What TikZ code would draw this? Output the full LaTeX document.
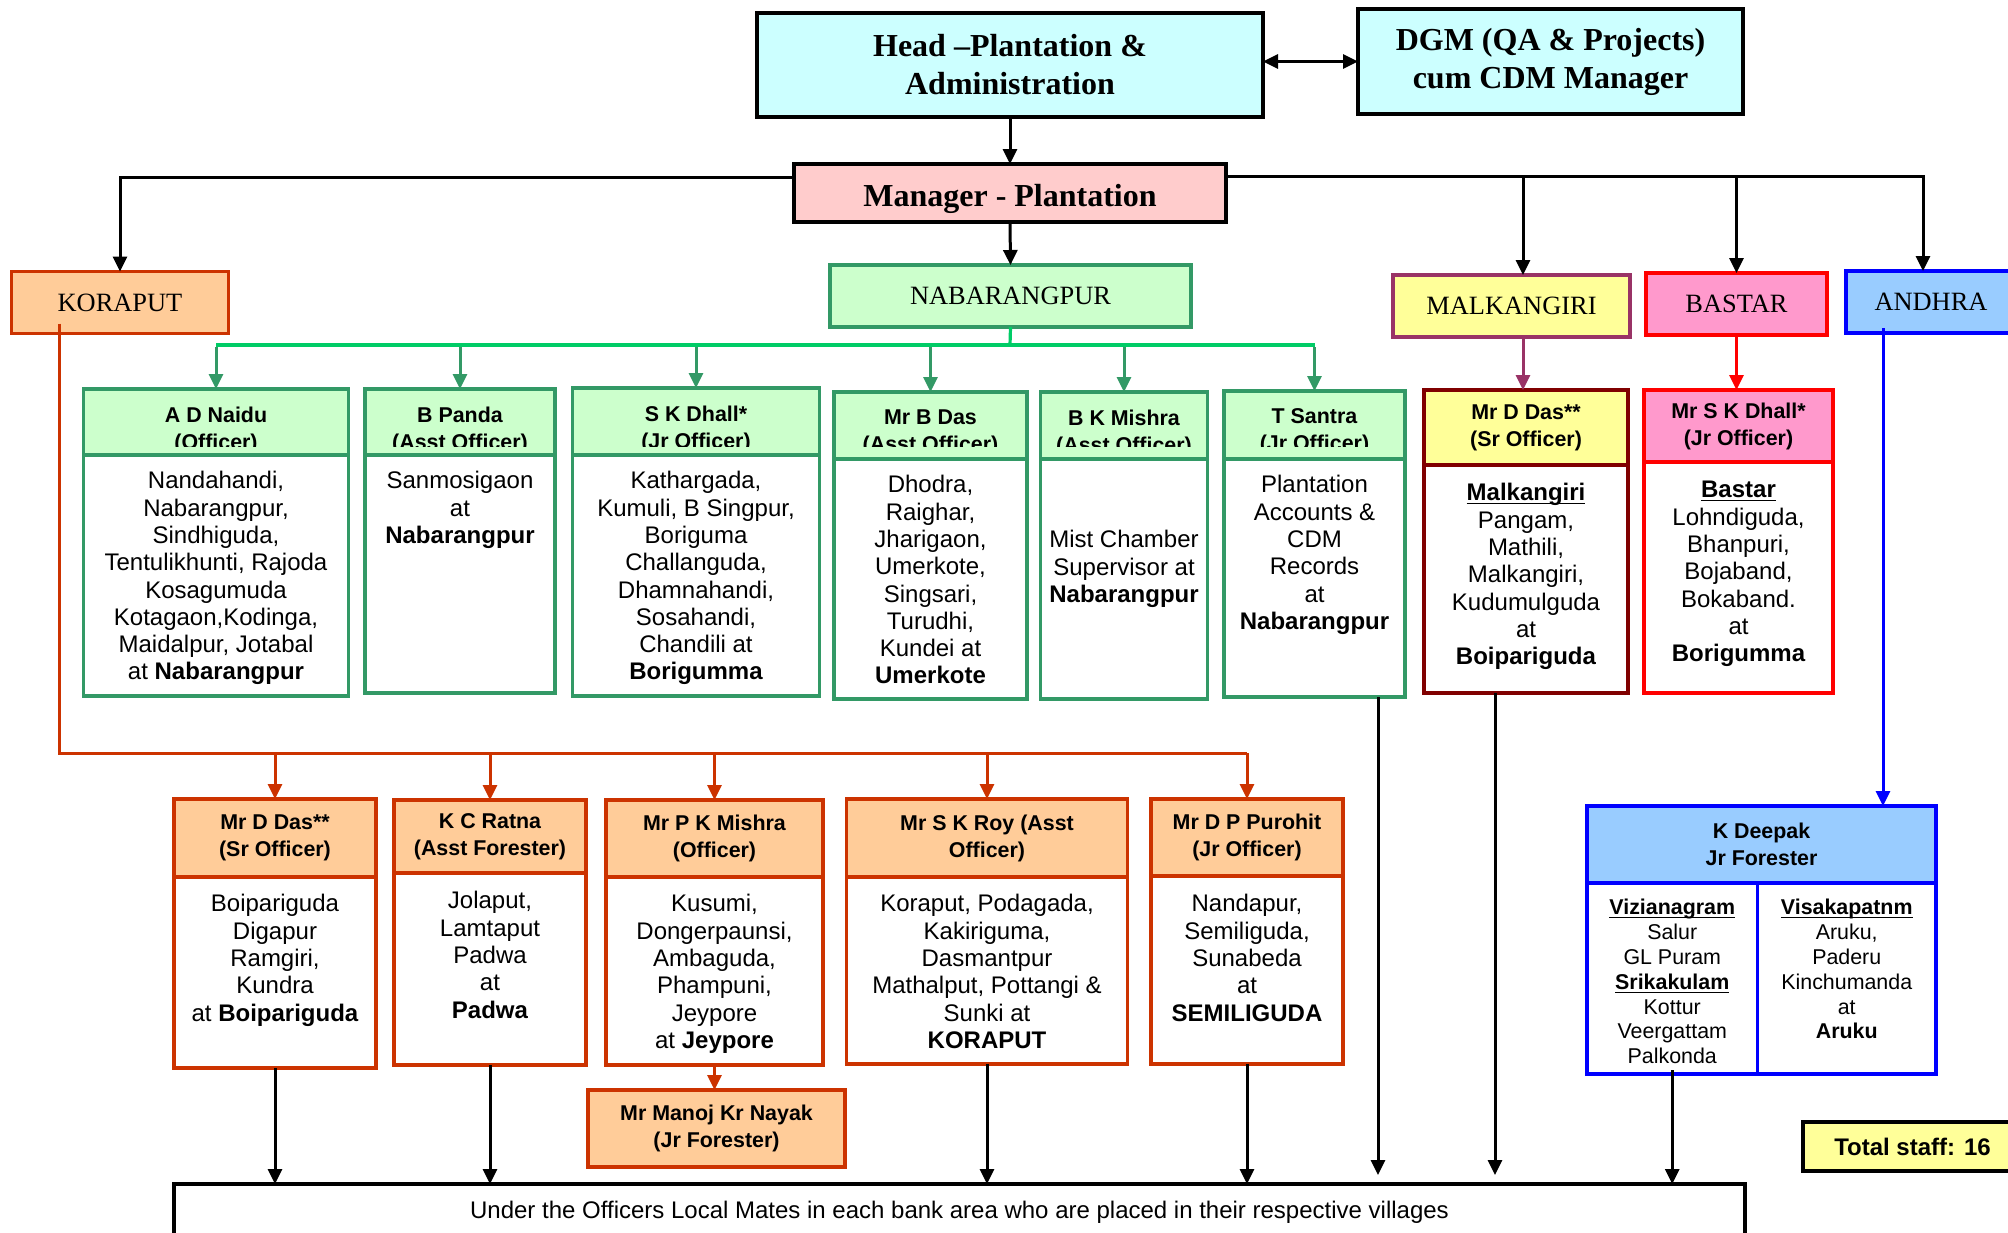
\documentclass[tikz,border=0pt]{standalone}
\usepackage{fontspec}
\setmainfont{Liberation Serif}
\setsansfont{Liberation Sans}
\usetikzlibrary{positioning,arrows.meta}

\definecolor{cyanfill}{HTML}{CCFFFF}
\definecolor{pinkfill}{HTML}{FFCCCC}
\definecolor{orangefill}{HTML}{FFCC99}
\definecolor{orangeline}{HTML}{CC3300}
\definecolor{greenfill}{HTML}{CCFFCC}
\definecolor{greenline}{HTML}{339966}
\definecolor{greenbus}{HTML}{00CC66}
\definecolor{yellowfill}{HTML}{FFFF99}
\definecolor{plumline}{HTML}{993366}
\definecolor{maroonline}{HTML}{800000}
\definecolor{rosefill}{HTML}{FF99CC}
\definecolor{bluefill}{HTML}{99CCFF}
\definecolor{blueline}{HTML}{0000FF}
\definecolor{redline}{HTML}{FF0000}

\newcommand{\placehead}[1]{\textbf{\underline{\raisebox{0pt}[\height][0pt]{#1}}}}

\begin{document}
\begin{tikzpicture}[x=0.5pt,y=-0.5pt,
    >={Triangle[length=7.5pt,width=7pt]},
    every node/.style={outer sep=0pt},
    orgbox/.style={draw,line width=1.6pt,inner sep=2pt,align=center},
    titlebox/.style={orgbox,line width=1.8pt,fill=cyanfill,font=\fontsize{16}{19}\selectfont\bfseries},
    regionbox/.style={orgbox,minimum height=31pt,font=\fontsize{13.2}{15}\selectfont},
    headbox/.style={orgbox,font=\sffamily\fontsize{10.7}{13.5}\selectfont\bfseries},
    bodybox/.style={orgbox,fill=white},
    headtext/.style={inner sep=0pt,align=center,font=\sffamily\fontsize{10.7}{13.5}\selectfont\bfseries},
    placetext/.style={inner sep=0pt,align=center,font=\sffamily\fontsize{12}{13.65}\selectfont},
    coltext/.style={placetext,font=\sffamily\fontsize{10.7}{12.4}\selectfont},
    greenbox/.style={draw=greenline,fill=greenfill},
    orangebox/.style={draw=orangeline,fill=orangefill},
    conn/.style={line width=1.5pt,->},
  ]
\useasboundingbox (0,0) rectangle (2008,1232);
\clip (0,0) rectangle (2008,1232);

% top of the chart
\node[titlebox,minimum width=253pt,minimum height=52pt] (head) at (1010,65) {Head --Plantation \&\\Administration};
\node[titlebox,minimum width=192.5pt,minimum height=52.5pt] (dgm) at (1550.5,61.5) {DGM (QA \& Projects)\\cum CDM Manager};
\node[titlebox,fill=pinkfill,minimum width=216pt,minimum height=29pt,text height=13.6pt,text depth=0pt] (manager) at (1010,193) {Manager - Plantation};

% regions
\node[regionbox,orangebox,minimum width=108.5pt] (koraput) at (120,302.5) {KORAPUT};
\node[regionbox,greenbox,minimum width=180.5pt] (nabarangpur) at (1010.5,296) {NABARANGPUR};
\node[regionbox,draw=plumline,fill=yellowfill,minimum width=118.5pt] (malkangiri) at (1511.5,306) {MALKANGIRI};
\node[regionbox,draw=redline,fill=rosefill,minimum width=90.5pt] (bastar) at (1736.5,304) {BASTAR};
\node[regionbox,draw=blueline,fill=bluefill,minimum width=85pt] (andhra) at (1931,302) {ANDHRA};

% Nabarangpur officers
\node[headbox,greenbox,minimum width=132.75pt,minimum height=33pt] (naidu-h) at (216,422) {};
\node[bodybox,draw=greenline,minimum width=132.75pt,minimum height=120.5pt,below=0pt of naidu-h] (naidu) {};
\node[placetext,below=8.2pt of naidu.north] (naidu-t) {Nandahandi,\\Nabarangpur,\\Sindhiguda,\\Tentulikhunti, Rajoda\\Kosagumuda\\Kotagaon,Kodinga,\\Maidalpur, Jotabal\\at \textbf{Nabarangpur}};

\node[headbox,greenbox,minimum width=95pt,minimum height=33pt] (panda-h) at (460,422) {};
\node[bodybox,draw=greenline,minimum width=95pt,minimum height=119pt,below=0pt of panda-h] (panda) {};
\node[placetext,below=8.2pt of panda.north] (panda-t) {Sanmosigaon\\at\\\textbf{Nabarangpur}};

\node[headbox,greenbox,minimum width=123.25pt,minimum height=33.5pt] (skdhall-h) at (696,421.5) {};
\node[bodybox,draw=greenline,minimum width=123.25pt,minimum height=120.5pt,below=0pt of skdhall-h] (skdhall) {};
\node[placetext,below=8.2pt of skdhall.north] (skdhall-t) {Kathargada,\\Kumuli, B Singpur,\\Boriguma\\Challanguda,\\Dhamnahandi,\\Sosahandi,\\Chandili at\\\textbf{Borigumma}};

\node[headbox,greenbox,minimum width=96.5pt,minimum height=33.5pt] (bdas-h) at (930.5,425.5) {};
\node[bodybox,draw=greenline,minimum width=96.5pt,minimum height=120pt,below=0pt of bdas-h] (bdas) {};
\node[placetext,below=8.2pt of bdas.north] (bdas-t) {Dhodra,\\Raighar,\\Jharigaon,\\Umerkote,\\Singsari,\\Turudhi,\\Kundei at\\\textbf{Umerkote}};

\node[headbox,greenbox,minimum width=83.75pt,minimum height=33.5pt] (bkmishra-h) at (1124,425.5) {};
\node[bodybox,draw=greenline,minimum width=83.75pt,minimum height=120pt,below=0pt of bkmishra-h] (bkmishra) {};
\node[placetext,below=35.7pt of bkmishra.north] (bkmishra-t) {Mist Chamber\\Supervisor at\\\textbf{Nabarangpur}};

\node[headbox,greenbox,minimum width=90.5pt,minimum height=34pt] (santra-h) at (1314.5,425) {};
\node[bodybox,draw=greenline,minimum width=90.5pt,minimum height=119pt,below=0pt of santra-h] (santra) {};
\node[placetext,below=8.2pt of santra.north] (santra-t) {Plantation\\Accounts \&\\CDM\\Records\\at\\\textbf{Nabarangpur}};

% header texts cut at the bottom
\begin{scope}
  \clip (60,370) rectangle (1420,446);
  \node[headtext,below=9pt of naidu-h.north] {A D Naidu\\(Officer)};
  \node[headtext,below=9pt of panda-h.north] {B Panda\\(Asst Officer)};
  \node[headtext,below=9pt of skdhall-h.north] {S K Dhall*\\(Jr Officer)};
  \node[headtext,below=9pt of bdas-h.north] {Mr B Das\\(Asst Officer)};
  \node[headtext,below=9pt of bkmishra-h.north] {B K Mishra\\(Asst Officer)};
  \node[headtext,below=9pt of santra-h.north] {T Santra\\(Jr Officer)};
\end{scope}

% Malkangiri and Bastar officers
\node[headbox,draw=maroonline,fill=yellowfill,minimum width=102pt,minimum height=37.5pt] (mdas-h) at (1526,427.5) {Mr D Das**\\(Sr Officer)};
\node[bodybox,draw=maroonline,minimum width=102pt,minimum height=114pt,below=0pt of mdas-h] (mdas) {};
\node[placetext,below=9.2pt of mdas.north] (mdas-t) {\placehead{Malkangiri}\\Pangam,\\Mathili,\\Malkangiri,\\Kudumulguda\\at\\\textbf{Boipariguda}};

\node[headbox,draw=redline,fill=rosefill,minimum width=94.5pt,minimum height=36pt] (mskd-h) at (1738.5,426) {Mr S K Dhall*\\(Jr Officer)};
\node[bodybox,draw=redline,minimum width=94.5pt,minimum height=115.5pt,below=0pt of mskd-h] (mskd) {};
\node[placetext,below=9.7pt of mskd.north] (mskd-t) {\placehead{Bastar}\\Lohndiguda,\\Bhanpuri,\\Bojaband,\\Bokaband.\\at\\\textbf{Borigumma}};

% Koraput officers
\node[headbox,orangebox,minimum width=101pt,minimum height=39pt] (ddas-h) at (275,838) {Mr D Das**\\(Sr Officer)};
\node[bodybox,draw=orangeline,minimum width=101pt,minimum height=95.5pt,below=0pt of ddas-h] (ddas) {};
\node[placetext,below=8.7pt of ddas.north] (ddas-t) {Boipariguda\\Digapur\\Ramgiri,\\Kundra\\at \textbf{Boipariguda}};

\node[headbox,orangebox,minimum width=96pt,minimum height=36.5pt] (kcratna-h) at (490,836.5) {K C Ratna\\(Asst Forester)};
\node[bodybox,draw=orangeline,minimum width=96pt,minimum height=96pt,below=0pt of kcratna-h] (kcratna) {};
\node[placetext,below=9.2pt of kcratna.north] (kcratna-t) {Jolaput,\\Lamtaput\\Padwa\\at\\\textbf{Padwa}};

\node[headbox,orangebox,minimum width=108.5pt,minimum height=38.5pt] (pkmishra-h) at (714.5,838.5) {Mr P K Mishra\\(Officer)};
\node[bodybox,draw=orangeline,minimum width=108.5pt,minimum height=94pt,below=0pt of pkmishra-h] (pkmishra) {};
\node[placetext,below=8.7pt of pkmishra.north] (pkmishra-t) {Kusumi,\\Dongerpaunsi,\\Ambaguda,\\Phampuni,\\Jeypore\\at \textbf{Jeypore}};

\node[headbox,orangebox,minimum width=140.25pt,minimum height=39pt] (skroy-h) at (987,838) {Mr S K Roy (Asst\\Officer)};
\node[bodybox,draw=orangeline,minimum width=140.25pt,minimum height=93.5pt,below=0pt of skroy-h] (skroy) {};
\node[placetext,below=8.7pt of skroy.north] (skroy-t) {Koraput, Podagada,\\Kakiriguma,\\Dasmantpur\\Mathalput, Pottangi \&\\Sunki at\\\textbf{KORAPUT}};

\node[headbox,orangebox,minimum width=96pt,minimum height=38.5pt] (purohit-h) at (1247,837.5) {Mr D P Purohit\\(Jr Officer)};
\node[bodybox,draw=orangeline,minimum width=96pt,minimum height=94pt,below=0pt of purohit-h] (purohit) {};
\node[placetext,below=9.2pt of purohit.north] (purohit-t) {Nandapur,\\Semiliguda,\\Sunabeda\\at\\\textbf{SEMILIGUDA}};

\node[headbox,orangebox,minimum width=128.5pt,minimum height=38.5pt] (manoj) at (716.5,1128.5) {Mr Manoj Kr Nayak\\(Jr Forester)};

% Andhra
\node[headbox,draw=blueline,fill=bluefill,minimum width=174.5pt,minimum height=38.5pt] (deepak-h) at (1761.5,844.5) {K Deepak\\Jr Forester};
\node[bodybox,draw=blueline,anchor=north west,minimum width=85.25pt,minimum height=95.5pt] (viz) at (deepak-h.south west) {};
\node[bodybox,draw=blueline,anchor=north east,minimum width=89.25pt,minimum height=95.5pt] (visak) at (deepak-h.south east) {};
\node[coltext,below=8.2pt of viz.north] (viz-t) {\placehead{Vizianagram}\\Salur\\GL Puram\\\placehead{Srikakulam}\\Kottur\\Veergattam\\Palkonda};
\node[coltext,below=8.2pt of visak.north] (visak-t) {\placehead{Visakapatnm}\\Aruku,\\Paderu\\Kinchumanda\\at\\\textbf{Aruku}};

% bottom
\node[orgbox,line width=1.7pt,minimum width=785.5pt,minimum height=28pt,font=\sffamily\fontsize{12}{14}\selectfont] (bottom) at (959.5,1212) {Under the Officers Local Mates in each bank area who are placed in their respective villages};
\node[orgbox,line width=1.8pt,fill=yellowfill,minimum width=109.5pt,minimum height=24.5pt,font=\sffamily\fontsize{12}{14}\selectfont\bfseries] (total) at (1912.5,1146.5) {Total staff: 16};

% connectors
\draw[conn,<->] (head.east |- dgm.west) -- (dgm.west);
\draw[conn] (head.south) -- (manager.north);
\draw[conn] ([yshift=-6.5pt]manager.north west) -| (koraput.north);
\coordinate (rbus) at ([yshift=-6pt]manager.north east);
\draw[conn] (rbus) -| ([xshift=-4pt]andhra.north);
\draw[conn] ([xshift=5.75pt]malkangiri.north |- rbus) -- ([xshift=5.75pt]malkangiri.north);
\draw[conn] (bastar.north |- rbus) -- (bastar.north);
\draw[conn] (manager.south) -- (nabarangpur.north);

\coordinate (nbus) at (1010,345);
\draw[line width=1.6pt,greenbus] (nabarangpur.south) -- (nbus);
\draw[line width=1.6pt,greenbus] (naidu-h.north |- nbus) -- (santra-h.north |- nbus);
\foreach \n in {naidu,panda,skdhall,bdas,bkmishra,santra}
  \draw[conn,greenline] ([yshift=-1pt]\n-h.north |- nbus) -- (\n-h.north);

\draw[conn,plumline] ([xshift=5.75pt]malkangiri.south) -- ([xshift=5.75pt]malkangiri.south |- mdas-h.north);
\draw[conn,redline] (bastar.south) -- (bastar.south |- mskd-h.north);
\draw[conn,blueline] ([xshift=-24pt,yshift=2.5pt]andhra.south) -- ([xshift=-24pt]andhra.south |- deepak-h.north);

\coordinate (kbus) at (59,753);
\draw[line width=1.5pt,orangeline] ([yshift=5pt]koraput.south -| kbus) |- (purohit-h.north |- kbus);
\foreach \n in {ddas,kcratna,pkmishra,skroy,purohit}
  \draw[conn,orangeline] (\n-h.north |- kbus) -- (\n-h.north);
\draw[conn,orangeline] (pkmishra.south) -- (pkmishra.south |- manoj.north);

\foreach \n in {ddas,kcratna,skroy,purohit}
  \draw[conn] (\n.south) -- (\n.south |- bottom.north);
\draw[conn,shorten >=4.5pt] ([xshift=31.75pt]santra.south) -- ([xshift=31.75pt]santra.south |- bottom.north);
\draw[conn,shorten >=4.5pt] ([xshift=-15.5pt]mdas.south) -- ([xshift=-15.5pt]mdas.south |- bottom.north);
\draw[conn] ([yshift=2pt]viz.south) -- (viz.south |- bottom.north);
\end{tikzpicture}
\end{document}
